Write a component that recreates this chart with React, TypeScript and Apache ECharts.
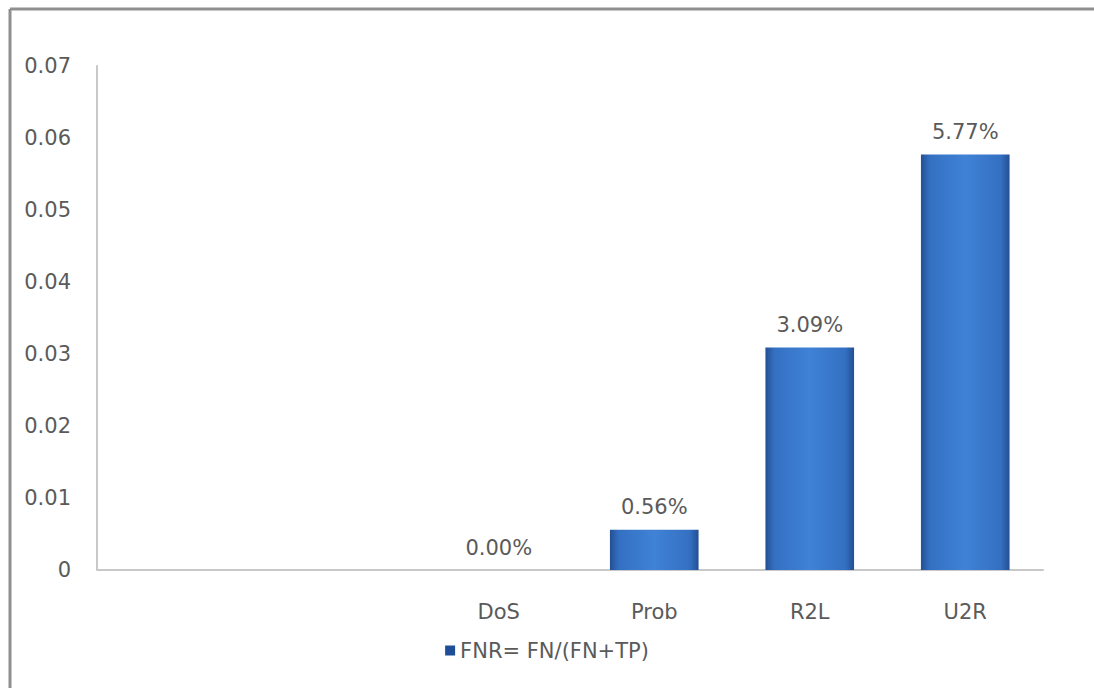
import React, { useEffect, useRef } from "react";
import * as echarts from "echarts";

const categories = ["", " ", "DoS", "Prob", "R2L", "U2R"];
const fnrValues: (number | null)[] = [null, null, 0, 0.0056, 0.0309, 0.0577];
const seriesName = "FNR= FN/(FN+TP)";
const yMin = 0;
const yMax = 0.07;
const yInterval = 0.01;

export default function App() {
  const ref = useRef<HTMLDivElement>(null);
  useEffect(() => {
    document.body.style.margin = "0";
    const chart = echarts.init(ref.current!, null, { renderer: "svg" });
    const font = "'DejaVu Sans', sans-serif";
    const txt = "#5a5a5a";
    const fs = 21;
    chart.setOption({
      animation: false,
      backgroundColor: "#ffffff",
      textStyle: { fontFamily: font },
      graphic: [
        {
          type: "line",
          shape: { x1: 10, y1: 9, x2: 1094, y2: 9 },
          style: { stroke: "#8f8f8f", lineWidth: 3 },
          silent: true,
        },
        {
          type: "line",
          shape: { x1: 10, y1: 9, x2: 10, y2: 688 },
          style: { stroke: "#8f8f8f", lineWidth: 3 },
          silent: true,
        },
        {
          type: "line",
          shape: { x1: 97, y1: 570, x2: 112, y2: 570 },
          style: { stroke: "#c8c8c8", lineWidth: 2 },
          silent: true,
        },
      ],
      grid: { left: 110, right: 51, top: 66, bottom: 118, containLabel: false },
      legend: {
        bottom: 22,
        left: "center",
        itemWidth: 10,
        itemHeight: 10,
        icon: "rect",
        itemGap: 10,
        textStyle: { color: txt, fontSize: fs, fontFamily: font },
        data: [{ name: seriesName, itemStyle: { color: "#1f4e99" } }],
      },
      xAxis: {
        type: "category",
        data: categories,
        axisLine: { show: true, lineStyle: { color: "#c8c8c8", width: 2 } },
        axisTick: { show: false },
        axisLabel: { color: txt, fontSize: fs, margin: 31, fontFamily: font },
        splitLine: { show: false },
      },
      yAxis: {
        type: "value",
        min: yMin,
        max: yMax,
        interval: yInterval,
        offset: 13,
        axisLine: { show: true, lineStyle: { color: "#c8c8c8", width: 2 } },
        axisTick: { show: false },
        splitLine: { show: false },
        axisLabel: {
          color: txt,
          fontSize: fs,
          margin: 26,
          fontFamily: font,
          formatter: (v: number) => (v === 0 ? "0" : v.toFixed(2)),
        },
      },
      series: [
        {
          name: seriesName,
          type: "bar",
          data: fnrValues,
          barWidth: "57%",
          itemStyle: {
            color: new echarts.graphic.LinearGradient(0, 0, 1, 0, [
              { offset: 0, color: "#244f93" },
              { offset: 0.1, color: "#3470c2" },
              { offset: 0.5, color: "#3f82d6" },
              { offset: 0.9, color: "#3470c2" },
              { offset: 1, color: "#244f93" },
            ]),
          },
          label: {
            show: true,
            position: "top",
            distance: 12,
            color: txt,
            fontSize: fs,
            fontFamily: font,
            formatter: (p: any) => (p.value == null ? "" : (p.value * 100).toFixed(2) + "%"),
          },
        },
      ],
    });
    return () => chart.dispose();
  }, []);
  return <div ref={ref} style={{ width: 1094, height: 688 }} />;
}
